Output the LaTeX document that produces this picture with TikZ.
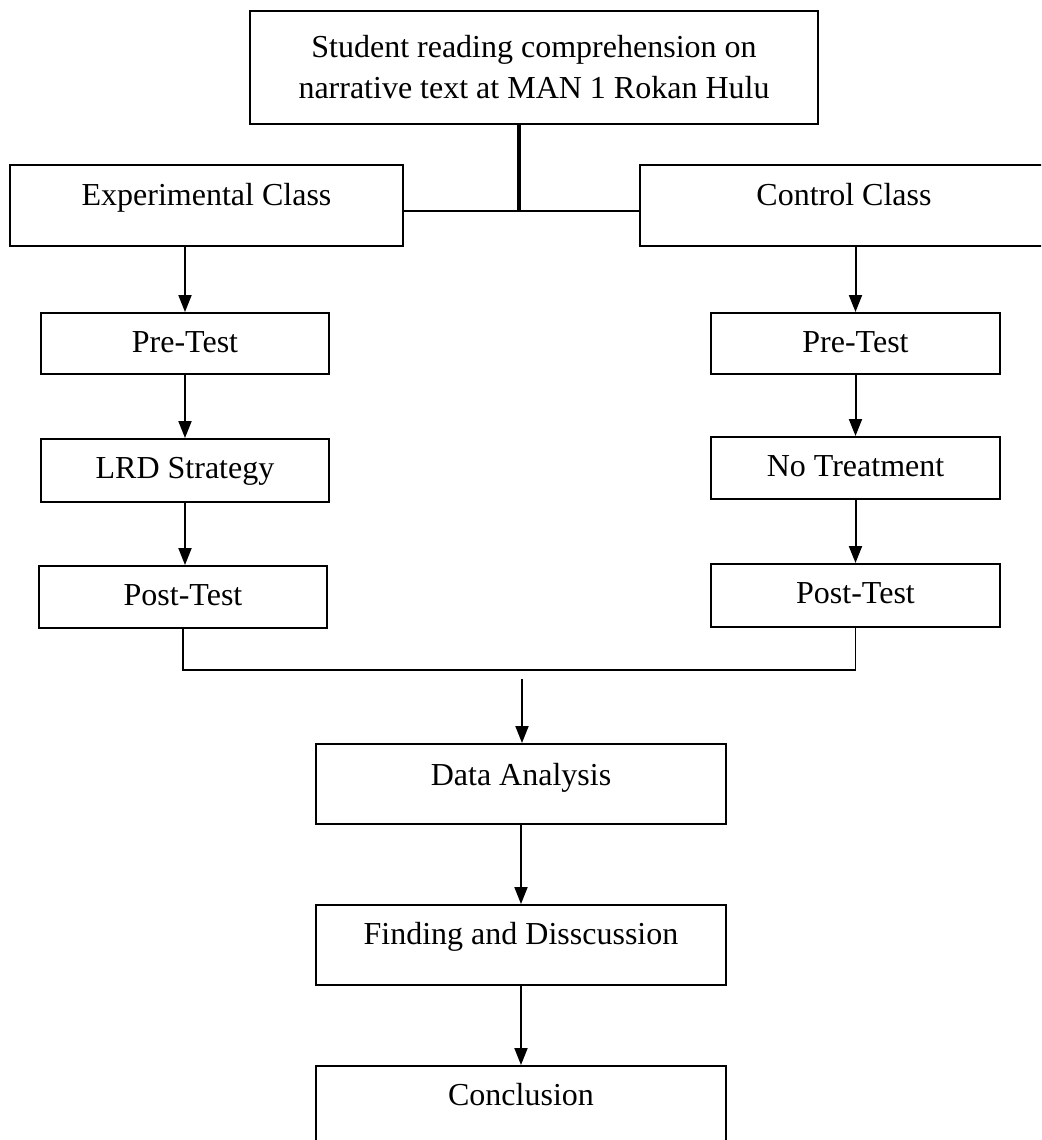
\documentclass[tikz,border=0pt]{standalone}
\usepackage{fontspec}
\setmainfont{Liberation Serif}
\usetikzlibrary{arrows.meta}
\begin{document}
\begin{tikzpicture}[x=0.5pt,y=-0.5pt,
  box/.style={draw,line width=0.9pt,rectangle,inner sep=0pt,anchor=north,
    font=\fontsize{16}{20.5}\selectfont},
  arr/.style={line width=1pt,-{Triangle[length=8.5pt,width=6.5pt]}},
  link/.style={line width=0.8pt}]
\clip (0,0) rectangle (1041,1140);
\fill[white] (0,0) rectangle (1041,1140);
% boxes
\node[box,minimum width=284pt,minimum height=56.5pt,align=center] (top) at (534,10)
  {Student reading comprehension on\\narrative text at MAN 1 Rokan Hulu};
\node[box,minimum width=196.5pt,text height=20.5pt,text depth=20pt] (exp) at (206.5,164) {Experimental Class};
\node[box,minimum width=204pt,text height=20.5pt,text depth=20pt] (ctrl) at (844,164) {Control Class};
\node[box,minimum width=144pt,text height=20pt,text depth=10.5pt] (preL) at (185,312) {Pre-Test};
\node[box,minimum width=144.5pt,text height=20pt,text depth=10.5pt] (preR) at (855.5,312) {Pre-Test};
\node[box,minimum width=144pt,text height=20pt,text depth=11.5pt] (lrd) at (185,438) {LRD Strategy};
\node[box,minimum width=144.5pt,text height=20pt,text depth=11pt] (noT) at (855.5,436) {No Treatment};
\node[box,minimum width=144pt,text height=20pt,text depth=11pt] (postL) at (183,565) {Post-Test};
\node[box,minimum width=144.5pt,text height=20pt,text depth=11.5pt] (postR) at (855.5,563) {Post-Test};
\node[box,minimum width=205pt,text height=21pt,text depth=19pt] (data) at (521,743) {Data Analysis};
\node[box,minimum width=205pt,text height=20pt,text depth=20pt] (find) at (521,904) {Finding and Disscussion};
\node[box,minimum width=205pt,text height=20pt,text depth=20pt] (concl) at (521,1065) {Conclusion};
% connectors
\coordinate (j) at (519,211);
\draw[line width=2pt] (top.south -| j) -- (j);
\draw[link,line width=1pt] (exp.east |- j) -- (ctrl.west |- j);
\draw[arr] (exp.south -| preL.north) -- (preL.north);
\draw[arr] (preL.south) -- (lrd.north);
\draw[arr] (lrd.south) -- (lrd.south |- postL.north);
\draw[arr] (ctrl.south -| preR.north) -- (preR.north);
\draw[arr] (preR.south) -- (noT.north);
\draw[arr] (noT.south) -- (postR.north);
\coordinate (b) at (0,670);
\draw[link] (postL.south) -- (postL.south |- b) -- (postR.south |- b) -- (postR.south);
\coordinate (m) at (522,679);
\draw[arr] (m) -- (m |- data.north);
\draw[arr] (data.south) -- (find.north);
\draw[arr] (find.south) -- (concl.north);
\end{tikzpicture}
\end{document}
